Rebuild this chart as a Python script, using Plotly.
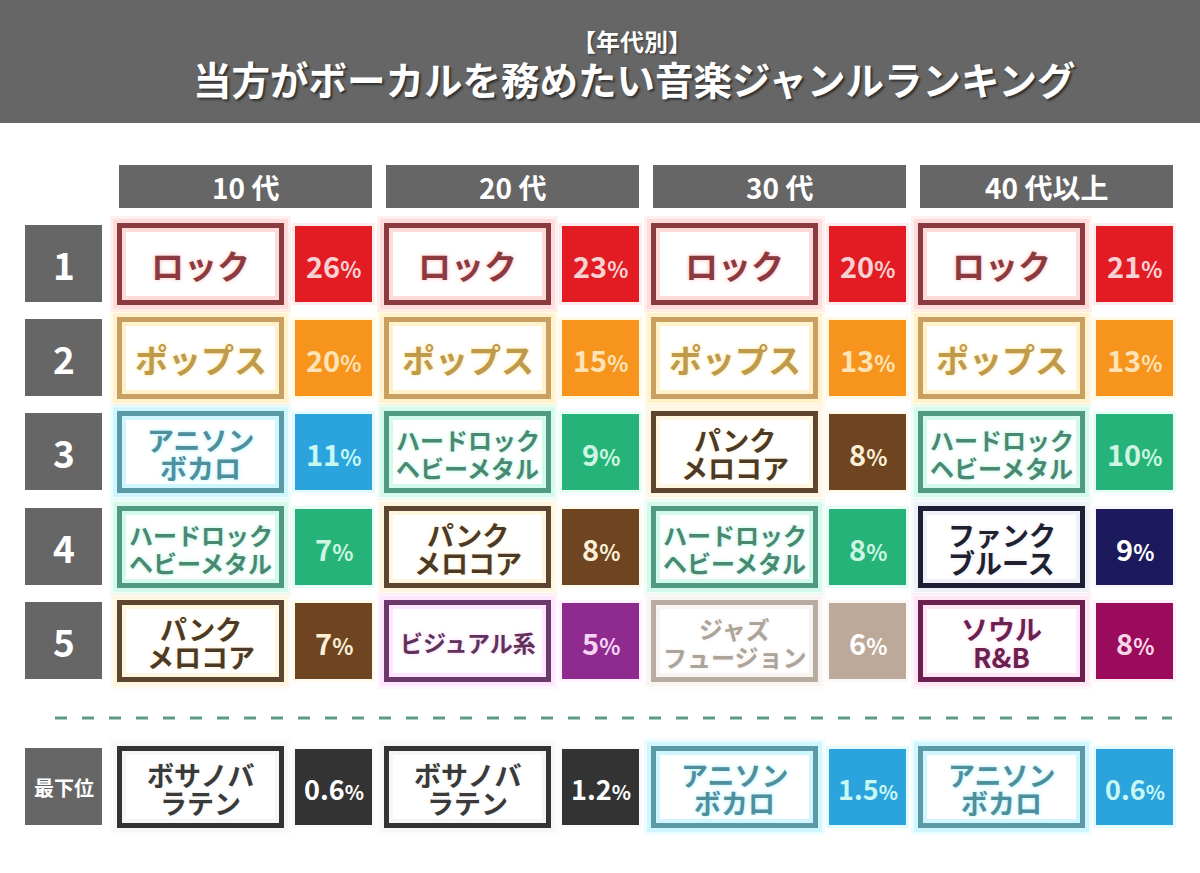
import plotly.graph_objects as go

# ---------------- data ----------------
title_sub = "【年代別】"
title_main = "当方がボーカルを務めたい音楽ジャンルランキング"
age_groups = ["10 代", "20 代", "30 代", "40 代以上"]
rank_labels = ["1", "2", "3", "4", "5", "最下位"]

genres_10s = ["ロック", "ポップス", "アニソン\nボカロ", "ハードロック\nヘビーメタル", "パンク\nメロコア", "ボサノバ\nラテン"]
pcts_10s = [26, 20, 11, 7, 7, 0.6]
genres_20s = ["ロック", "ポップス", "ハードロック\nヘビーメタル", "パンク\nメロコア", "ビジュアル系", "ボサノバ\nラテン"]
pcts_20s = [23, 15, 9, 8, 5, 1.2]
genres_30s = ["ロック", "ポップス", "パンク\nメロコア", "ハードロック\nヘビーメタル", "ジャズ\nフュージョン", "アニソン\nボカロ"]
pcts_30s = [20, 13, 8, 8, 6, 1.5]
genres_40s = ["ロック", "ポップス", "ハードロック\nヘビーメタル", "ファンク\nブルース", "ソウル\nR&B", "アニソン\nボカロ"]
pcts_40s = [21, 13, 10, 9, 8, 0.6]

all_genres = [genres_10s, genres_20s, genres_30s, genres_40s]
all_pcts = [pcts_10s, pcts_20s, pcts_30s, pcts_40s]

# ---------------- styles ----------------
STY = {
    "ロック": dict(border="#8b3a3f", text="#8b3a3f", glow="#ffbcbc", pct="#e31b23", pcttext="#f7d2d2"),
    "ポップス": dict(border="#c9a062", text="#bf9a4a", glow="#ffe7a0", pct="#f7941d", pcttext="#fde4b8"),
    "アニソン\nボカロ": dict(border="#5b9aa6", text="#4f8f9c", glow="#a8f0ff", pct="#2ba3dc", pcttext="#c8f8f4"),
    "ハードロック\nヘビーメタル": dict(border="#4f9a80", text="#4a8872", glow="#b0f5dc", pct="#26b37a", pcttext="#cdf6e2"),
    "パンク\nメロコア": dict(border="#5c4630", text="#4c3a26", glow="#ffefc8", pct="#6e4421", pcttext="#fbefd6"),
    "ビジュアル系": dict(border="#6b3a6b", text="#5e3358", glow="#ffd0ff", pct="#8f2a8f", pcttext="#f6d4f4"),
    "ジャズ\nフュージョン": dict(border="#b8aba0", text="#aca39a", glow="#f2ece6", pct="#bca999", pcttext="#ffffff"),
    "ファンク\nブルース": dict(border="#1e1e36", text="#20202e", glow="#e4e4f2", pct="#1c1a5c", pcttext="#ffffff"),
    "ソウル\nR&B": dict(border="#6b2150", text="#6b2150", glow="#ffd0ee", pct="#9b0b5b", pcttext="#f8d6ea"),
    "ボサノバ\nラテン": dict(border="#333333", text="#3a3a3a", glow="#f0f0f0", pct="#333333", pcttext="#ffffff"),
}
GRAY = "#666666"
FONT = "Noto Sans CJK JP"

W, H = 1200, 873
col_x = [119, 386, 653, 920]
row_cy = [264, 358, 452, 547, 641, 787]

shapes = []
ann = []


def rect(x0, y0, x1, y1, fill=None, line=None, lw=0, opacity=1.0):
    shapes.append(dict(type="rect", xref="x", yref="y", x0=x0, y0=y0, x1=x1, y1=y1,
                       fillcolor=fill if fill else "rgba(0,0,0,0)",
                       line=dict(color=line if line else "rgba(0,0,0,0)", width=lw),
                       opacity=opacity, layer="below"))


def text(x, y, s, size, color, shadow=None):
    f = dict(family=FONT, size=size, color=color)
    if shadow:
        f["shadow"] = shadow
    ann.append(dict(x=x, y=y, xref="x", yref="y", text=s, showarrow=False, font=f,
                    xanchor="center", yanchor="middle", align="center"))


# title band
rect(0, 0, W, 123, fill=GRAY)
text(632, 40, "<b>" + title_sub + "</b>", 24, "white", shadow="1px 1px 2px #333333")
text(634, 78, "<b>" + title_main + "</b>", 38.5, "white", shadow="2px 2px 2px #333333")

# column headers
for cx, lab in zip(col_x, age_groups):
    rect(cx, 165, cx + 253, 208, fill=GRAY)
    text(cx + 126.5, 187, "<b>" + lab + "</b>", 28, "white")

# rank boxes
for i, (cy, r) in enumerate(zip(row_cy, rank_labels)):
    rect(25, cy - 39, 102, cy + 38, fill=GRAY)
    size = 37 if len(r) == 1 else 20
    text(63.5, cy, "<b>" + r + "</b>", size, "white")

# dashed separator
shapes.append(dict(type="line", xref="x", yref="y", x0=55, x1=1172, y0=718, y1=718,
                   line=dict(color="#5e9a8a", width=3, dash="12px,15px"), layer="below"))


def genre_size(g):
    lines = g.split("\n")
    mx = max(len(l) for l in lines)
    if len(lines) == 1:
        return 33 if mx <= 4 else 23
    return 27 if mx <= 5 else 24


for c, cx in enumerate(col_x):
    for r, cy in enumerate(row_cy):
        g = all_genres[c][r]
        p = all_pcts[c][r]
        st = STY[g]
        gx0, gx1 = cx - 2, cx + 165
        gy0, gy1 = cy - 41, cy + 41
        # outer glow
        rect(gx0 - 7, gy0 - 7, gx1 + 7, gy1 + 7, fill=st["glow"], opacity=0.22)
        rect(gx0 - 4, gy0 - 4, gx1 + 4, gy1 + 4, fill=st["glow"], opacity=0.4)
        # main box
        rect(gx0 + 2.5, gy0 + 2.5, gx1 - 2.5, gy1 - 2.5, fill="white", line=st["border"], lw=5)
        # inner glow
        rect(gx0 + 7, gy0 + 7, gx1 - 7, gy1 - 7, line=st["glow"], lw=4, opacity=0.55)
        lines = g.split("\n")
        size = genre_size(g)
        xc = (gx0 + gx1) / 2
        if len(lines) == 1:
            offs = [1]
        else:
            offs = [-13, 15]
        for ln, dy in zip(lines, offs):
            text(xc, cy + dy, "<b>" + ln.replace("&", "&amp;") + "</b>", size, st["text"],
                 shadow="0px 0px 4px " + st["glow"])
        # percentage box
        px0, px1 = cx + 176, cx + 253
        rect(px0 - 3, cy - 41, px1 + 3, cy + 41, fill=st["glow"], opacity=0.3)
        rect(px0, cy - 38, px1, cy + 38, fill=st["pct"])
        num = f"{p:g}"
        dsize = 29 if r < 5 else 27
        s = f"<b>{num}<span style='font-size:{dsize - 7}px'>%</span></b>"
        text((px0 + px1) / 2, cy + 1, s, dsize, st["pcttext"])

fig = go.Figure()
fig.update_layout(
    width=W, height=H,
    margin=dict(l=0, r=0, t=0, b=0),
    paper_bgcolor="white", plot_bgcolor="white",
    xaxis=dict(range=[0, W], visible=False, fixedrange=True),
    yaxis=dict(range=[H, 0], visible=False, fixedrange=True),
    shapes=shapes, annotations=ann, showlegend=False,
)
fig.write_html("out.html", config=dict(displayModeBar=False),
               post_script="document.body.style.margin='0';document.body.style.overflow='hidden';")
